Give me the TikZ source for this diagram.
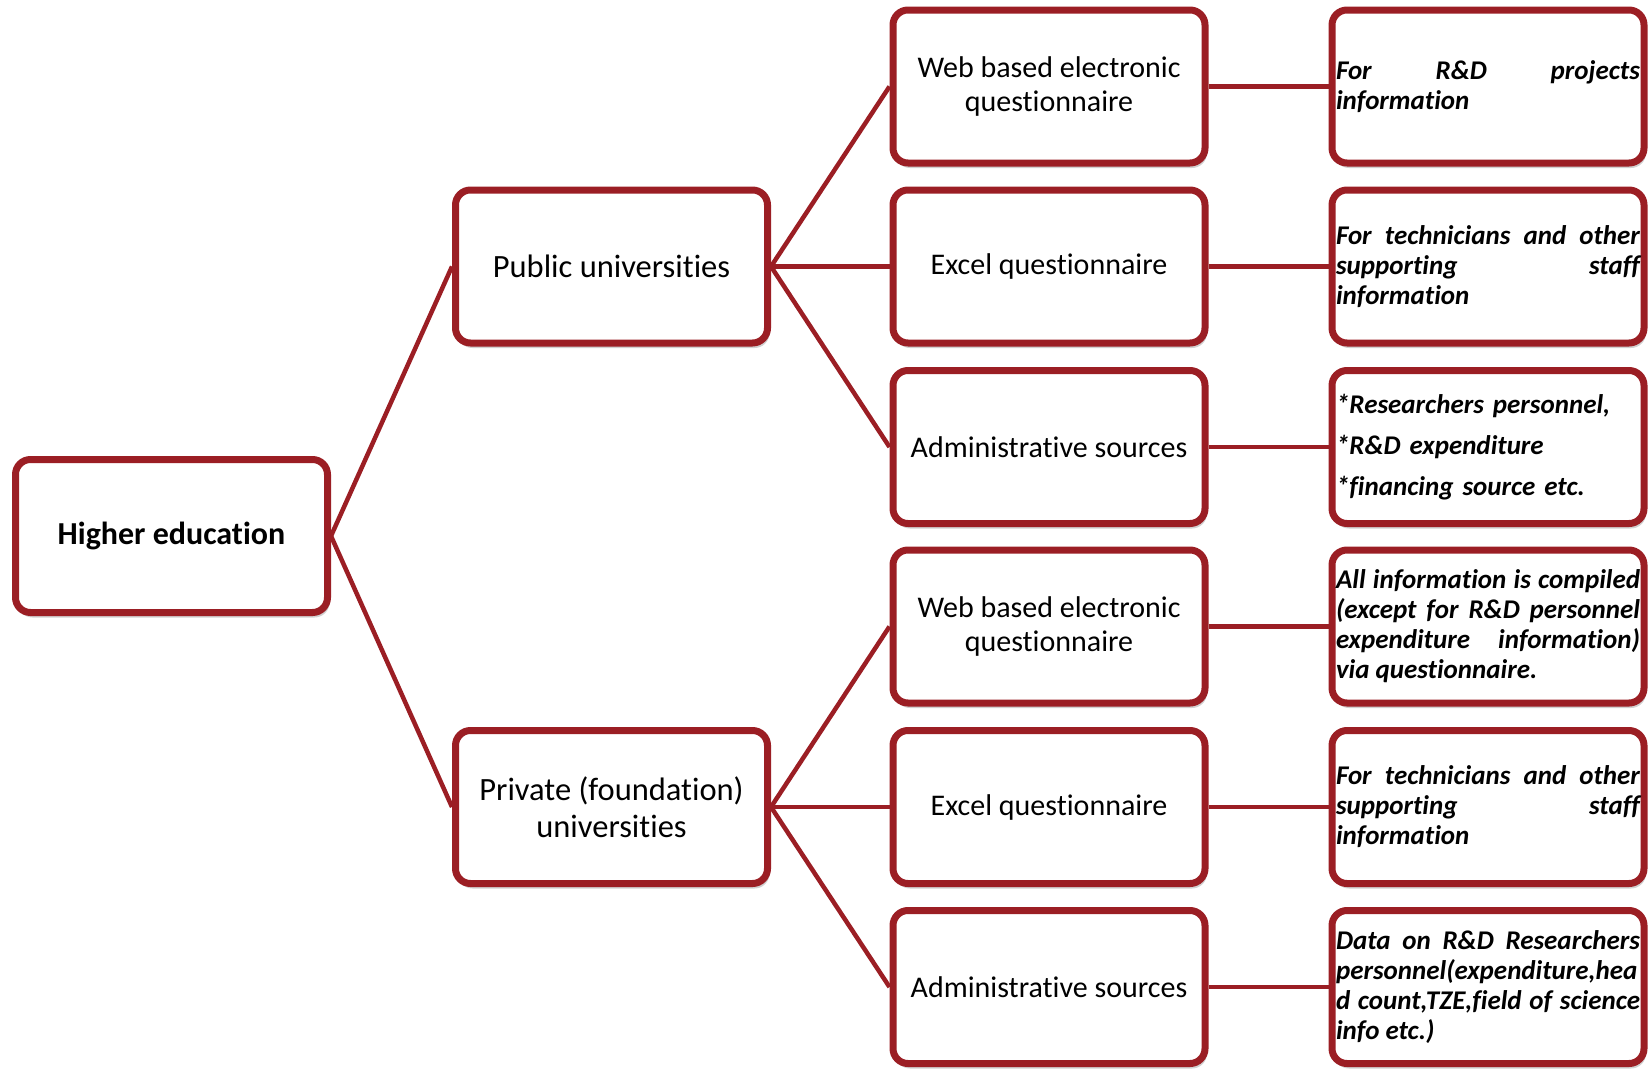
\documentclass[tikz,border=0pt]{standalone}
\usepackage{fontspec}
\setmainfont{Carlito}[Ligatures=NoCommon]
\usetikzlibrary{shadows}
\definecolor{dred}{RGB}{155,30,36}
\tikzset{
  box/.style={draw=dred, line width=7pt, rounded corners=15pt, fill=white,
    minimum width=312pt, minimum height=153pt, inner sep=4pt, align=center,
    drop shadow={shadow xshift=2pt, shadow yshift=-5pt, opacity=0.3, fill=black!60}},
  midbox/.style={box, font=\fontsize{30}{34}\selectfont},
  unibox/.style={box, font=\fontsize{32.5}{37}\selectfont},
  info/.style={box, text width=304pt, align=justify,
    font=\fontsize{27}{30}\selectfont\bfseries\itshape},
  conn/.style={draw=dred, line width=4.5pt},
}
\begin{document}
\begin{tikzpicture}[x=1pt, y=-1pt]
\useasboundingbox (0,0) rectangle (1651,1068);
\node[box, font=\fontsize{32}{36}\selectfont\bfseries] (he) at (171.5,536) {Higher education};
\node[unibox] (pub) at (611.5,266.5) {Public universities};
\node[unibox] (priv) at (611.5,807) {Private (foundation)\\universities};

\node[midbox] (m1) at (1049,86.5) {Web based electronic\\questionnaire};
\node[midbox] (m2) at (1049,266.5) {Excel questionnaire};
\node[midbox] (m3) at (1049,447) {Administrative sources};
\node[midbox] (m4) at (1049,626.5) {Web based electronic\\questionnaire};
\node[midbox] (m5) at (1049,807) {Excel questionnaire};
\node[midbox] (m6) at (1049,987) {Administrative sources};

\node[info] (r1) at (1488,86.5) {For R\&D projects\linebreak information};
\node[info] (r2) at (1488,266.5) {For technicians and other\linebreak supporting staff\linebreak information};
\node[info, align=left, font=\fontsize{27}{41}\selectfont\bfseries\itshape] (r3) at (1488,447) {*Researchers personnel,\\{}*R\&D expenditure\\{}*financing source etc.};
\node[info] (r4) at (1488,626.5) {All information is compiled\linebreak (except for R\&D personnel\linebreak expenditure information)\linebreak via questionnaire.};
\node[info] (r5) at (1488,807) {For technicians and other\linebreak supporting staff\linebreak information};
\node[info] (r6) at (1488,987) {Data on R\&D Researchers\linebreak personnel(expenditure,hea\linebreak d count,TZE,field of science\linebreak info etc.)};

\draw[conn] (he.east) -- (pub.west);
\draw[conn] (he.east) -- (priv.west);
\draw[conn] (pub.east) -- (m1.west);
\draw[conn] (pub.east) -- (m2.west);
\draw[conn] (pub.east) -- (m3.west);
\draw[conn] (priv.east) -- (m4.west);
\draw[conn] (priv.east) -- (m5.west);
\draw[conn] (priv.east) -- (m6.west);
\draw[conn] (m1.east) -- (r1.west);
\draw[conn] (m2.east) -- (r2.west);
\draw[conn] (m3.east) -- (r3.west);
\draw[conn] (m4.east) -- (r4.west);
\draw[conn] (m5.east) -- (r5.west);
\draw[conn] (m6.east) -- (r6.west);
\end{tikzpicture}
\end{document}
